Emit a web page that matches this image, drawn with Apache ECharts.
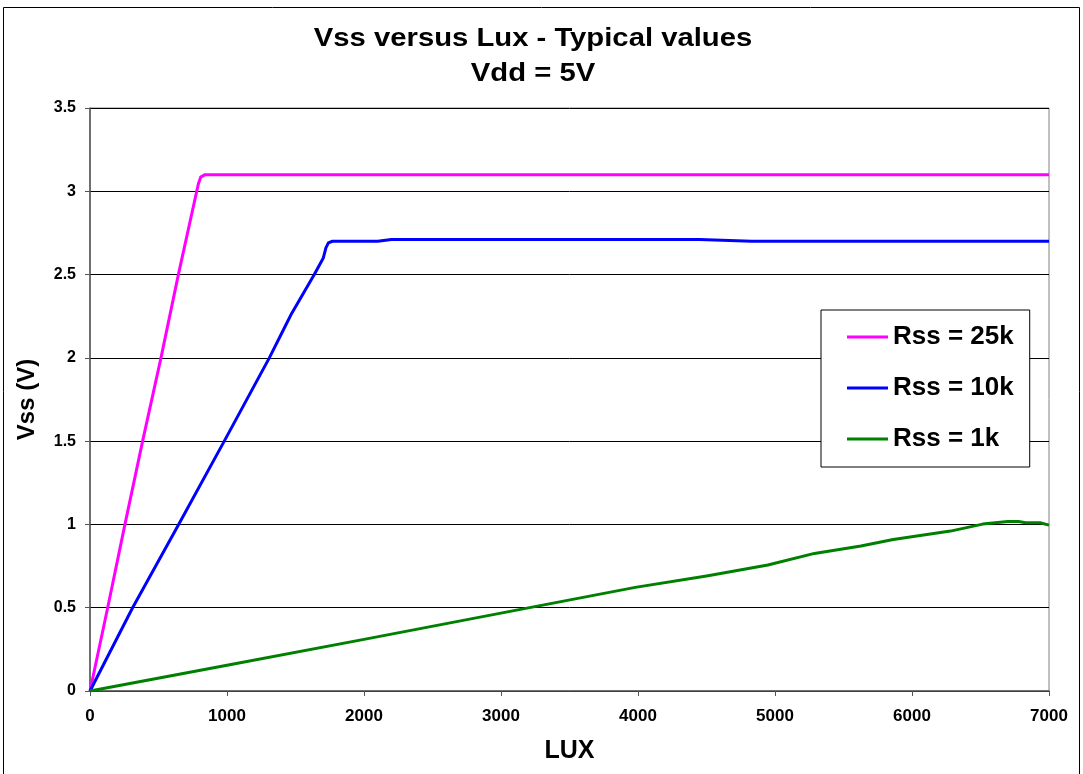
<!DOCTYPE html>
<html lang="en">
<head>
    <meta charset="UTF-8">
    <title>Vss versus Lux</title>
    <script src="https://cdn.jsdelivr.net/npm/echarts@6/dist/echarts.min.js"></script>
    <style>
        body { margin: 0; background: #fff; }
    </style>
</head>
<body>
    <div id="chart" style="width: 1083px;height: 774px;"></div>
</body>
<script type="text/javascript">
    // lux, volts
    var rss25k = [
        [0, 0], [129, 0.5], [255, 1.0], [384, 1.5], [518, 2.0], [645, 2.5],
        [779, 3.0], [793, 3.05], [808, 3.085], [840, 3.1], [7000, 3.1]
    ];
    var rss10k = [
        [0, 0], [311, 0.5], [647, 1.0], [980, 1.5], [1309, 2.0], [1423, 2.187],
        [1472, 2.267], [1637, 2.5], [1703, 2.6], [1722, 2.66], [1740, 2.69],
        [1770, 2.70], [2100, 2.70], [2200, 2.71], [4450, 2.71],
        [4830, 2.70], [7000, 2.70]
    ];
    var rss1k = [
        [0, 0], [1000, 0.155], [2000, 0.31], [2990, 0.466], [3980, 0.622],
        [4500, 0.69], [4948, 0.756], [5288, 0.826], [5627, 0.87], [5863, 0.91],
        [6281, 0.96], [6516, 1.002], [6699, 1.018], [6778, 1.017], [6830, 1.01],
        [6935, 1.01], [7000, 0.996]
    ];
    var seriesNames = ['Rss = 25k', 'Rss = 10k', 'Rss = 1k'];
    var seriesColors = ['#ff00ff', '#0000ff', '#008000'];
    var titleLines = ['Vss versus Lux - Typical values', 'Vdd = 5V'];

    var chart = echarts.init(document.getElementById('chart'));
    var font = 'Liberation Sans, Arial, sans-serif';

    function makeLine(i, data) {
        return {
            name: seriesNames[i],
            type: 'line',
            data: data,
            symbol: 'none',
            smooth: false,
            lineStyle: { color: seriesColors[i], width: 3, join: 'round' },
            itemStyle: { color: seriesColors[i] }
        };
    }

    // title drawn as text, a little wider than plain Arial like the original
    function titleText(str, y) {
        return {
            type: 'text',
            x: 533,
            y: y,
            scaleX: 1.17,
            silent: true,
            style: {
                text: str,
                font: 'bold 25px ' + font,
                fill: '#000',
                textAlign: 'center',
                textVerticalAlign: 'middle'
            }
        };
    }

    var option = {
        animation: false,
        backgroundColor: '#fff',
        graphic: [
            {
                type: 'rect',
                shape: { x: 3.5, y: 7.5, width: 1076, height: 800 },
                style: { fill: 'none', stroke: '#000', lineWidth: 1 },
                silent: true
            },
            titleText(titleLines[0], 39),
            titleText(titleLines[1], 74)
        ],
        legend: {
            orient: 'vertical',
            left: 821,
            top: 310,
            padding: [14, 16, 15, 26],
            itemGap: 25,
            itemWidth: 41,
            itemHeight: 3,
            icon: 'rect',
            borderColor: '#000',
            borderWidth: 1,
            backgroundColor: '#fff',
            data: seriesNames,
            textStyle: { fontFamily: font, fontSize: 26, fontWeight: 'bold', color: '#000' }
        },
        grid: {
            left: 90, right: 34, top: 108, bottom: 83,
            show: true, borderColor: '#808080', borderWidth: 1
        },
        xAxis: {
            type: 'value',
            min: 0, max: 7000, interval: 1000,
            name: 'LUX',
            nameLocation: 'middle',
            nameGap: 48,
            nameTextStyle: { fontFamily: font, fontSize: 25, fontWeight: 'bold', color: '#000' },
            axisLine: { lineStyle: { color: '#555', width: 1.5 } },
            axisTick: { show: true, length: 5, lineStyle: { color: '#555' } },
            splitLine: { show: false },
            axisLabel: {
                fontFamily: font, fontSize: 17, fontWeight: 'bold', color: '#000', margin: 17,
                formatter: function (v) { return String(v); }
            }
        },
        yAxis: {
            type: 'value',
            min: 0, max: 3.5, interval: 0.5,
            name: 'Vss (V)',
            nameLocation: 'middle',
            nameGap: 51,
            nameRotate: 90,
            nameTextStyle: { fontFamily: font, fontSize: 24, fontWeight: 'bold', color: '#000' },
            axisLine: { show: true, lineStyle: { color: '#555', width: 1.5 } },
            axisTick: { show: true, length: 5, lineStyle: { color: '#555' } },
            splitLine: { show: true, lineStyle: { color: '#000', width: 1 } },
            axisLabel: { fontFamily: font, fontSize: 16, fontWeight: 'bold', color: '#000', margin: 14 }
        },
        series: [
            makeLine(0, rss25k),
            makeLine(1, rss10k),
            makeLine(2, rss1k)
        ]
    };

    chart.setOption(option);
</script>
</html>
